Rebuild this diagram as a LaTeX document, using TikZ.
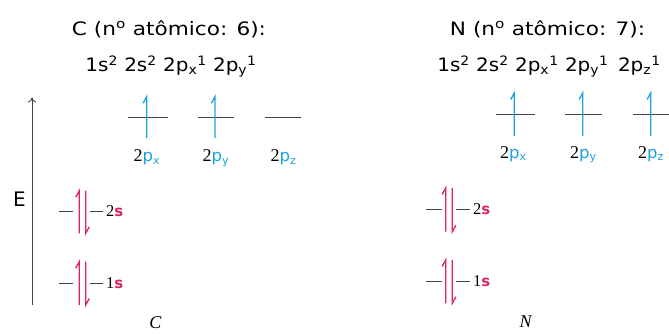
\documentclass[tikz,border=0pt]{standalone}
\usepackage{fontspec}
\usetikzlibrary{arrows.meta}
\setmainfont{DejaVu Sans}
\newfontfamily\widesans{DejaVu Sans}[FakeStretch=1.17]
\newfontfamily\midsans{DejaVu Sans}[FakeStretch=1.08]
\newfontfamily\serifnum{Liberation Serif}
\definecolor{eblue}{HTML}{1AA3DD}
\definecolor{emag}{HTML}{E0235F}
\definecolor{lvl}{HTML}{444444}
\begin{document}
\begin{tikzpicture}[x=1pt,y=-1pt,
  level/.style={lvl, line width=1.2pt},
  espin/.style={line width=1.3pt, line cap=butt, line join=miter},
  title/.style={font=\widesans\fontsize{18.5}{20}\selectfont, anchor=base, inner sep=0pt},
  config/.style={font=\midsans\fontsize{18.5}{20}\selectfont, anchor=base, inner sep=0pt},
  plabel/.style={inner sep=0pt, anchor=base west},
  slabel/.style={inner sep=0pt, anchor=base west},
  atom/.style={font=\serifnum\itshape\fontsize{18}{20}\selectfont, inner sep=0pt}]
\useasboundingbox (0,0) rectangle (669,333);
% titles
\node[title] (ct1) at (169,35) {C (n\textsuperscript{o} atômico: 6):};
\node[config] (ct2) at (171,71.7) {1s\textsuperscript{2} 2s\textsuperscript{2} 2p\textsubscript{x}\textsuperscript{1} 2p\textsubscript{y}\textsuperscript{1}};
\node[title] (nt1) at (547.5,35) {N (n\textsuperscript{o} atômico: 7):};
\node[config] (nt2) at (549,71.7) {1s\textsuperscript{2} 2s\textsuperscript{2} 2p\textsubscript{x}\textsuperscript{1} 2p\textsubscript{y}\textsuperscript{1}\, 2p\textsubscript{z}\textsuperscript{1}};
% energy axis
\coordinate (ax0) at (32,305);
\coordinate (ax1) at (32,97.5);
\draw[lvl, line width=0.9pt, -{To[length=5pt,width=8pt]}] (ax0) -- (ax1);
\node[font=\fontsize{20}{22}\selectfont, inner sep=0pt] (E) at (19.5,199) {E};
\newcommand{\upspin}[4]{% x, top, bottom, color
  \draw[espin,#4] (#1,#3) -- (#1,#2) -- ++(-3.6,6.5);}
\newcommand{\downspin}[4]{% x, top, bottom, color
  \draw[espin,#4] (#1,#2) -- (#1,#3) -- ++(3.6,-6.5);}
% Carbon 2p
\draw[level] (128,117.5) -- (168,117.5);
\draw[level] (197.7,117.5) -- (234.3,117.5);
\draw[level] (265,117.5) -- (301,117.5);
\upspin{146.7}{96.7}{138}{eblue}
\upspin{215}{96.7}{138}{eblue}
% Nitrogen 2p
\draw[level] (496,114.5) -- (535,114.5);
\draw[level] (565,114.5) -- (601.7,114.5);
\draw[level] (633.3,114.5) -- (672,114.5);
\upspin{514.3}{93}{136}{eblue}
\upspin{582.7}{93}{136}{eblue}
\upspin{650.7}{93}{136}{eblue}
% p labels
\newcommand{\plab}[1]{{\serifnum\fontsize{18}{18}\selectfont 2}{\color{eblue}\fontsize{16.5}{16}\selectfont p\raisebox{-2.5pt}{\fontsize{11}{10}\selectfont #1}}}
\node[plabel] (cpx) at (133.5,161.7) {\plab{x}};
\node[plabel] (cpy) at (202.5,161.7) {\plab{y}};
\node[plabel] (cpz) at (270.5,161.7) {\plab{z}};
\node[plabel] (npx) at (500,158) {\plab{x}};
\node[plabel] (npy) at (570,158) {\plab{y}};
\node[plabel] (npz) at (638,158) {\plab{z}};
% s levels
\newcommand{\slab}[1]{{\serifnum\fontsize{16.5}{18}\selectfont #1}{\color{emag}\bfseries\fontsize{15}{16}\selectfont s}}
% Carbon
\draw[level] (59.3,211.5) -- (73.3,211.5);
\draw[level] (90,211.5) -- (103.3,211.5);
\upspin{79.3}{190.7}{233.3}{emag}
\downspin{85.7}{190.7}{233.3}{emag}
\node[slabel] (c2s) at (106,216.7) {\slab{2}};
\draw[level] (59.3,283.5) -- (73.3,283.5);
\draw[level] (90,283.5) -- (103.3,283.5);
\upspin{79.3}{261.7}{305}{emag}
\downspin{85.7}{261.7}{305}{emag}
\node[slabel] (c1s) at (106,288.3) {\slab{1}};
% Nitrogen
\draw[level] (426,209.5) -- (441.7,209.5);
\draw[level] (456,209.5) -- (470,209.5);
\upspin{445.7}{188}{231.7}{emag}
\downspin{452.3}{188}{231.7}{emag}
\node[slabel] (n2s) at (473,214.3) {\slab{2}};
\draw[level] (426,281.5) -- (441.7,281.5);
\draw[level] (456,281.5) -- (470,281.5);
\upspin{445.7}{260}{303.3}{emag}
\downspin{452.3}{260}{303.3}{emag}
\node[slabel] (n1s) at (473,286) {\slab{1}};
% atom labels
\node[atom] (C) at (155.3,323) {C};
\node[atom] (N) at (525.7,321.7) {N};
\end{tikzpicture}
\end{document}
